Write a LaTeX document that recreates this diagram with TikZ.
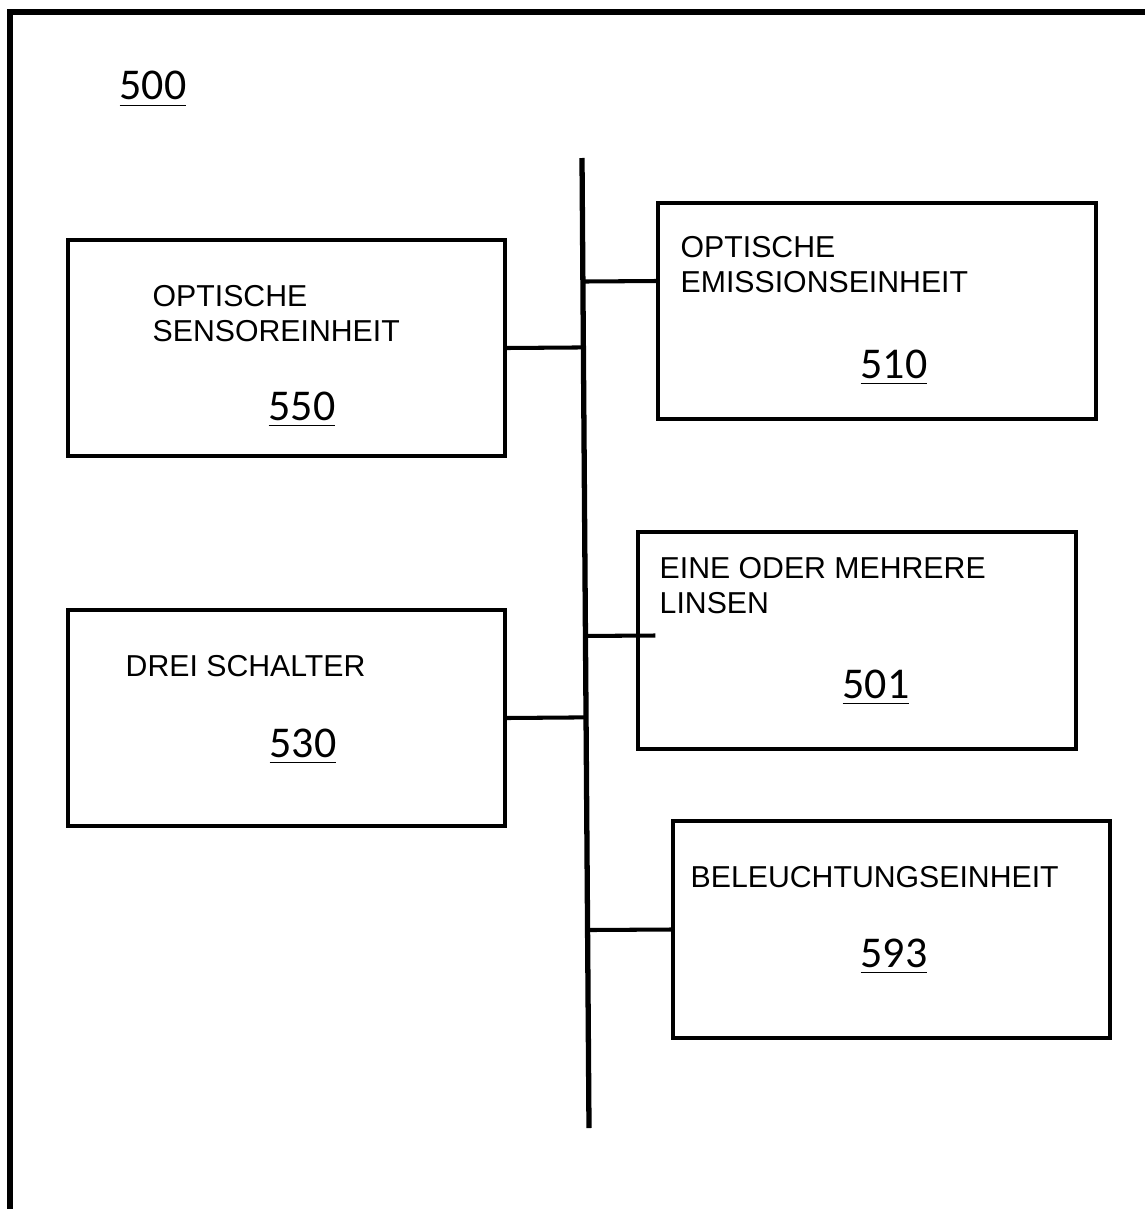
\documentclass[tikz,border=0pt]{standalone}
\usepackage{fontspec}
\setmainfont{Liberation Sans}
\newfontfamily\numfont{Carlito}
\usepackage{tikz}
\usetikzlibrary{calc}

\begin{document}
\begin{tikzpicture}[x=0.01cm, y=-0.01cm,
    unit/.style={draw, line width=1.15pt, minimum width=4.37cm, minimum height=2.16cm, inner sep=0pt},
    title/.style={anchor=north west, inner sep=0pt, align=left, font=\fontsize{8.6}{9.9}\selectfont},
    refnum/.style={anchor=base, inner sep=0pt, font=\numfont\fontsize{12.5}{14}\selectfont}]
    \useasboundingbox (0,0) rectangle (1145,1209);
    \draw[line width=1.7pt] (10,1209) -- (10,12) -- (1145,12);
    \node[refnum] (n500) at (153,100) {\underline{500}};
    \coordinate (bustop) at (582,158);
    \coordinate (busbot) at (589,1128);
    \draw[line width=1.5pt] (bustop) -- (busbot);
    \node[unit] (s550) at (286.5,348) {};
    \node[unit] (e510) at (877,311) {};
    \node[unit] (l501) at (857,640.5) {};
    \node[unit] (d530) at (286.5,718) {};
    \node[unit] (b593) at (891.5,929.5) {};
    \node[title] (t550) at (152,285) {OPTISCHE\\SENSOREINHEIT};
    \node[title] (t510) at (680,236) {OPTISCHE\\EMISSIONSEINHEIT};
    \node[title] (t501) at (659,557) {EINE ODER MEHRERE\\LINSEN};
    \node[title] (t530) at (125,655) {DREI SCHALTER};
    \node[title] (t593) at (690,866) {BELEUCHTUNGSEINHEIT};
    \node[refnum] (r550) at (302,420) {\underline{550}};
    \node[refnum] (r510) at (894,378) {\underline{510}};
    \node[refnum] (r501) at (876,698) {\underline{501}};
    \node[refnum] (r530) at (303,757) {\underline{530}};
    \node[refnum] (r593) at (894,967) {\underline{593}};
    \coordinate (c510) at ($(e510.west)+(0,-30)$);
    \coordinate (c501) at ($(l501.west)+(19,-5)$);
    \draw[line width=1.15pt] (s550.east) -- ($(bustop)!(s550.east)!(busbot)$);
    \draw[line width=1.15pt] (c510) -- ($(bustop)!(c510)!(busbot)$);
    \draw[line width=1.15pt] (c501) -- ($(bustop)!(c501)!(busbot)$);
    \draw[line width=1.15pt] (d530.east) -- ($(bustop)!(d530.east)!(busbot)$);
    \draw[line width=1.15pt] (b593.west) -- ($(bustop)!(b593.west)!(busbot)$);
\end{tikzpicture}
\end{document}
